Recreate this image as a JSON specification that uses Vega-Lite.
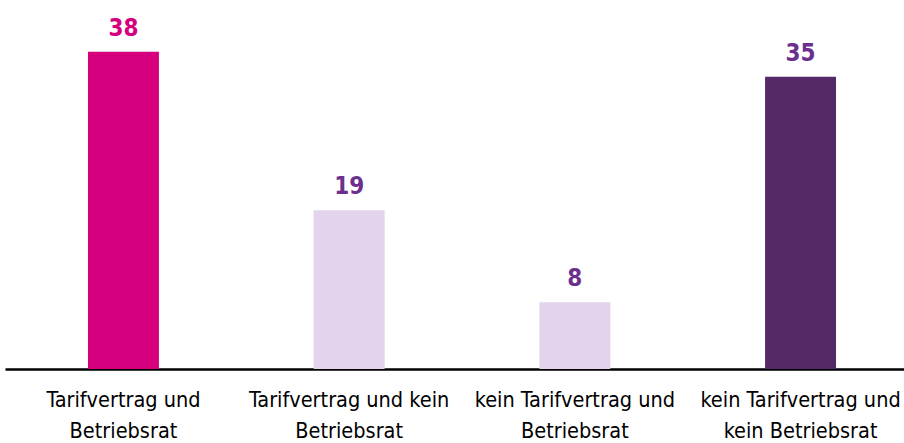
{
  "$schema": "https://vega.github.io/schema/vega-lite/v6.json",
  "width": 914,
  "height": 334,
  "autosize": "none",
  "padding": {"left": 5, "top": 35, "right": 0, "bottom": 74},
  "background": "#ffffff",
  "config": {"view": {"stroke": null}, "font": "DejaVu Sans Condensed", "axis": {"domainWidth": 2.5, "domainColor": "#000000"}},
  "data": {
    "values": [
      {"cat": "Tarifvertrag und|Betriebsrat", "value": 38},
      {"cat": "Tarifvertrag und kein|Betriebsrat", "value": 19},
      {"cat": "kein Tarifvertrag und|Betriebsrat", "value": 8},
      {"cat": "kein Tarifvertrag und|kein Betriebsrat", "value": 35}
    ]
  },
  "encoding": {
    "x": {
      "field": "cat",
      "type": "nominal",
      "sort": null,
      "scale": {"paddingInner": 0.6856, "paddingOuter": 0.3676},
      "axis": {
        "title": null,
        "labelAngle": 0,
        "ticks": false,
        "tickSize": 0,
        "labelPadding": 20,
        "labelFont": "DejaVu Sans Condensed",
        "labelFontSize": 21.5,
        "labelLineHeight": 31,
        "labelColor": "#000000",
        "labelLimit": 0,
        "domainColor": "#000000",
        "domainWidth": 2.5,
        "labelExpr": "split(datum.label, '|')"
      }
    },
    "y": {
      "field": "value",
      "type": "quantitative",
      "scale": {"domain": [0, 40], "nice": false},
      "axis": null
    }
  },
  "layer": [
    {
      "mark": {"type": "bar"},
      "encoding": {
        "color": {
          "field": "cat",
          "type": "nominal",
          "sort": null,
          "scale": {"range": ["#D6007E", "#E3D3EC", "#E3D3EC", "#532A67"]},
          "legend": null
        }
      }
    },
    {
      "mark": {
        "type": "text",
        "baseline": "alphabetic",
        "dy": -16,
        "fontSize": 24,
        "fontWeight": "bold",
        "font": "DejaVu Sans Condensed"
      },
      "encoding": {
        "text": {"field": "value", "type": "quantitative"},
        "color": {
          "field": "cat",
          "type": "nominal",
          "sort": null,
          "scale": {"range": ["#D6007E", "#6D2F8E", "#6D2F8E", "#6D2F8E"]},
          "legend": null
        }
      }
    }
  ],
  "resolve": {"scale": {"color": "independent"}}
}
